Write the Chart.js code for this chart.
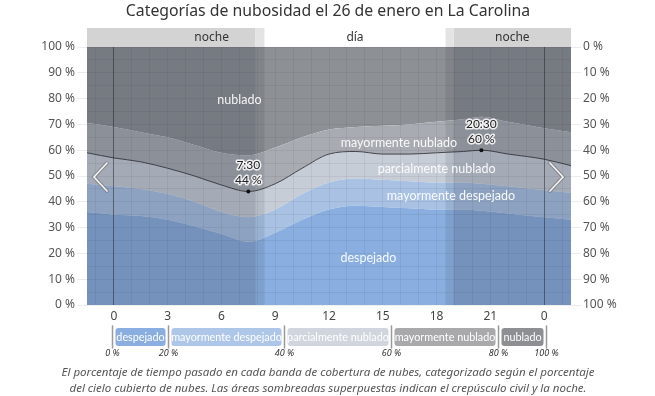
<!DOCTYPE html>
<html>
<head>
<meta charset="utf-8">
<script src="https://cdn.jsdelivr.net/npm/chart.js@4.4.0/dist/chart.umd.min.js"></script>
<style>
  html, body { margin: 0; padding: 0; background: #fff; }
</style>
</head>
<body>
<canvas id="chartNubes" width="655" height="396"></canvas>
<script>
// horas del día (0 = medianoche)
const horas = [-1.5, 0, 1.5, 3, 4.5, 6, 7.5, 9, 10.5, 12, 13.5, 15, 16.5, 18, 19.5, 20.5, 22, 24, 25.5];

// porcentaje de tiempo en cada banda
const despejado            = [36, 35, 34.5, 33, 30.5, 27.5, 24.5, 28, 33, 37, 38.5, 38, 37.5, 37, 37, 36.5, 35.5, 34, 33];
const mayormenteDespejado  = [11, 11, 10.5, 10, 9.5, 8.5, 9.5, 9, 10, 10.5, 10.5, 10.5, 10.5, 10.5, 10.5, 10.5, 10.5, 10.5, 10.5];
const parcialmenteNublado  = [12, 11, 10.5, 10, 10, 10.5, 10, 10, 10, 11, 10.5, 10, 10.5, 11.5, 12, 13, 12.5, 12, 10.5];
const mayormenteNublado    = [11.5, 12, 11.5, 12, 12, 12.5, 14, 14, 12, 9.5, 9.5, 11, 11.5, 12, 12.5, 13, 12.5, 12, 13];
const nublado              = [29.5, 31, 33, 35, 38, 41, 42, 39, 35, 32, 31, 30.5, 30, 29, 28, 27, 29, 31.5, 33];

const categorias = ['despejado', 'mayormente despejado', 'parcialmente nublado', 'mayormente nublado', 'nublado'];
const colores = ['#8aaedf', '#a9c2e4', '#c7cdd7', '#a8acb2', '#8d9095'];
const coloresLeyenda = ['#8aaee0', '#aec6e7', '#d0d5de', '#a9a9ac', '#8e8f92'];
const limitesLeyenda = ['0 %', '20 %', '40 %', '60 %', '80 %', '100 %'];

const xTicks = [0, 3, 6, 9, 12, 15, 18, 21, 24];
const yTicks = [0, 10, 20, 30, 40, 50, 60, 70, 80, 90, 100];

// noche / crepúsculo / día
const finNoche = 7.9, salidaSol = 8.4, puestaSol = 18.5, inicioNoche = 18.95;

// extremos marcados
const minimo = { hora: 7.5, texto: '7:30', valor: '44 %' };
const maximo = { hora: 20.5, texto: '20:30', valor: '60 %' };

const capas = [despejado, mayormenteDespejado, parcialmenteNublado, mayormenteNublado, nublado];
let acumulado = horas.map(() => 0);
const datasets = capas.map((serie, i) => {
    acumulado = acumulado.map((v, j) => v + serie[j]);
    return {
        label: categorias[i],
        data: horas.map((h, j) => ({ x: h, y: acumulado[j] })),
        backgroundColor: colores[i],
        borderColor: i === 2 ? 'rgba(45,45,50,0.85)' : 'transparent',
        borderWidth: i === 2 ? 1 : 0,
        fill: i === 0 ? 'origin' : '-1',
        pointRadius: 0,
        tension: 0.4,
        cubicInterpolationMode: 'monotone'
    };
});
const bordeParcial = horas.map((h, j) => despejado[j] + mayormenteDespejado[j] + parcialmenteNublado[j]);

const fuente = '"Noto Sans", "Open Sans", sans-serif';
const fuenteEstrecha = 'Lato, "Noto Sans", sans-serif';

const decoracion = {
    id: 'decoracion',
    afterDatasetsDraw(chart) {
        const { ctx, chartArea: a, scales: { x } } = chart;
        ctx.save();
        const px = (h) => Math.max(a.left, Math.min(a.right, x.getPixelForValue(h)));
        // sombreado noche y crepúsculo
        ctx.fillStyle = 'rgba(30,35,50,0.2)';
        ctx.fillRect(a.left, a.top, px(finNoche) - a.left, a.bottom - a.top);
        ctx.fillRect(px(inicioNoche), a.top, a.right - px(inicioNoche), a.bottom - a.top);
        ctx.fillStyle = 'rgba(30,35,50,0.1)';
        ctx.fillRect(px(finNoche), a.top, px(salidaSol) - px(finNoche), a.bottom - a.top);
        ctx.fillRect(px(puestaSol), a.top, px(inicioNoche) - px(puestaSol), a.bottom - a.top);
        ctx.restore();
    },
    afterDraw(chart) {
        const { ctx, chartArea: a, scales: { x, y } } = chart;
        const px = (h) => Math.max(a.left, Math.min(a.right, x.getPixelForValue(h)));
        ctx.save();

        // título
        ctx.fillStyle = '#333';
        ctx.font = '15.8px ' + fuente;
        ctx.textAlign = 'center';
        ctx.textBaseline = 'middle';
        ctx.fillText('Categorías de nubosidad el 26 de enero en La Carolina', 328, 11);

        // banda superior
        const top = a.top - 19;
        ctx.fillStyle = '#d3d3d3';
        ctx.fillRect(a.left, top, px(finNoche) - a.left, 19);
        ctx.fillRect(px(inicioNoche), top, a.right - px(inicioNoche), 19);
        ctx.fillStyle = '#e4e4e4';
        ctx.fillRect(px(finNoche), top, px(salidaSol) - px(finNoche), 19);
        ctx.fillRect(px(puestaSol), top, px(inicioNoche) - px(puestaSol), 19);
        ctx.fillStyle = '#333';
        ctx.font = '12px ' + fuente;
        ctx.fillText('noche', px(5.45), top + 10);
        ctx.fillText('día', px(13.45), top + 10);
        ctx.fillText('noche', (px(inicioNoche) + a.right) / 2, top + 10);

        // etiquetas de las áreas
        ctx.fillStyle = 'rgba(255,255,255,0.92)';
        ctx.font = '12.5px ' + fuenteEstrecha;
        const etiquetas = [
            ['nublado', 7, 79.5],
            ['mayormente nublado', 15.9, 62.8],
            ['parcialmente nublado', 18, 52.6],
            ['mayormente despejado', 18.8, 42.4],
            ['despejado', 14.2, 18.2]
        ];
        etiquetas.forEach(([t, h, v]) => ctx.fillText(t, x.getPixelForValue(h), y.getPixelForValue(v)));

        // extremos
        [minimo, maximo].forEach((m) => {
            const j = horas.indexOf(m.hora);
            const cx = x.getPixelForValue(m.hora);
            const cy = y.getPixelForValue(bordeParcial[j]);
            ctx.fillStyle = '#111';
            ctx.beginPath();
            ctx.arc(cx, cy, 2, 0, Math.PI * 2);
            ctx.fill();
            ctx.font = '12px ' + fuenteEstrecha;
            ctx.lineWidth = 3;
            ctx.strokeStyle = 'rgba(255,255,255,0.85)';
            ctx.lineJoin = 'round';
            ctx.strokeText(m.texto, cx, cy - 26);
            ctx.strokeText(m.valor, cx, cy - 11);
            ctx.fillStyle = '#222';
            ctx.fillText(m.texto, cx, cy - 26);
            ctx.fillText(m.valor, cx, cy - 11);
        });

        // flechas
        const flecha = (x0, x1) => {
            ctx.beginPath();
            ctx.moveTo(x0, 163);
            ctx.lineTo(x1, 177);
            ctx.lineTo(x0, 191);
            ctx.lineCap = 'round';
            ctx.lineJoin = 'miter';
            ctx.strokeStyle = 'rgba(120,120,125,0.8)';
            ctx.lineWidth = 3.5;
            ctx.stroke();
            ctx.strokeStyle = 'rgba(245,245,245,0.95)';
            ctx.lineWidth = 1.8;
            ctx.stroke();
        };
        flecha(107, 94);
        flecha(550, 563);

        // leyenda
        const sep = [112.5, 168.5, 284.5, 391.5, 498.5, 546.5];
        ctx.strokeStyle = '#9a9a9a';
        ctx.lineWidth = 1.5;
        sep.forEach((s) => {
            ctx.beginPath();
            ctx.moveTo(s, 326);
            ctx.lineTo(s, 348);
            ctx.stroke();
        });
        categorias.forEach((c, i) => {
            const x0 = sep[i] + 3, x1 = sep[i + 1] - 3;
            ctx.fillStyle = coloresLeyenda[i];
            ctx.beginPath();
            ctx.roundRect(x0, 328, x1 - x0, 18, 3);
            ctx.fill();
            ctx.fillStyle = '#fff';
            ctx.font = '10.8px ' + fuenteEstrecha;
            ctx.fillText(c, (x0 + x1) / 2, 337.5);
        });
        ctx.fillStyle = '#333';
        ctx.font = 'italic 9px ' + fuente;
        limitesLeyenda.forEach((t, i) => ctx.fillText(t, sep[i], 353));

        // pie
        ctx.fillStyle = '#555';
        ctx.font = 'italic 11.5px ' + fuente;
        ctx.fillText('El porcentaje de tiempo pasado en cada banda de cobertura de nubes, categorizado según el porcentaje', 328, 373);
        ctx.fillText('del cielo cubierto de nubes. Las áreas sombreadas superpuestas indican el crepúsculo civil y la noche.', 328, 389);
        ctx.restore();
    }
};

const gridColor = (ctx) => ctx.tick && ctx.tick.value % 24 === 0 ? 'rgba(30,30,40,0.5)' : 'rgba(40,40,60,0.075)';

new Chart(document.getElementById('chartNubes'), {
    type: 'line',
    data: { datasets: datasets },
    options: {
        responsive: false,
        animation: false,
        layout: { padding: { top: 47, left: 0, right: 0, bottom: 0 } },
        plugins: { legend: { display: false }, tooltip: { enabled: false } },
        scales: {
            x: {
                type: 'linear',
                min: -1.5,
                max: 25.5,
                afterFit: (s) => { s.height = 91; },
                afterBuildTicks: (s) => {
                    const t = [];
                    for (let h = -1; h <= 25; h++) t.push({ value: h });
                    s.ticks = t;
                },
                grid: { color: gridColor, drawTicks: false, lineWidth: 1, z: 1 },
                border: { display: false },
                ticks: {
                    autoSkip: false,
                    maxRotation: 0,
                    padding: 4,
                    color: '#444',
                    font: { size: 12, family: fuente },
                    callback: (v) => xTicks.includes(v) ? String(v % 24) : ''
                }
            },
            y: {
                min: 0,
                max: 100,
                position: 'left',
                afterFit: (s) => { s.width = 87; },
                afterBuildTicks: (s) => {
                    const t = [];
                    for (let v = 0; v <= 100; v += 5) t.push({ value: v });
                    s.ticks = t;
                },
                grid: {
                    color: 'rgba(40,40,60,0.075)',
                    tickColor: (ctx) => ctx.tick && ctx.tick.value % 10 === 0 ? '#ececec' : 'transparent',
                    tickLength: 10,
                    z: 1
                },
                border: { display: false },
                ticks: {
                    autoSkip: false,
                    padding: 2,
                    color: '#555',
                    font: { size: 12, family: fuente },
                    callback: (v) => yTicks.includes(v) ? v + ' %' : ''
                }
            },
            y2: {
                min: 0,
                max: 100,
                reverse: true,
                position: 'right',
                afterFit: (s) => { s.width = 84; },
                afterBuildTicks: (s) => {
                    s.ticks = yTicks.map((v) => ({ value: v }));
                },
                grid: { drawOnChartArea: false, tickColor: '#ececec', tickLength: 10 },
                border: { display: false },
                ticks: {
                    autoSkip: false,
                    padding: 2,
                    color: '#555',
                    font: { size: 12, family: fuente },
                    callback: (v) => v + ' %'
                }
            }
        }
    },
    plugins: [decoracion]
});
</script>
</body>
</html>
